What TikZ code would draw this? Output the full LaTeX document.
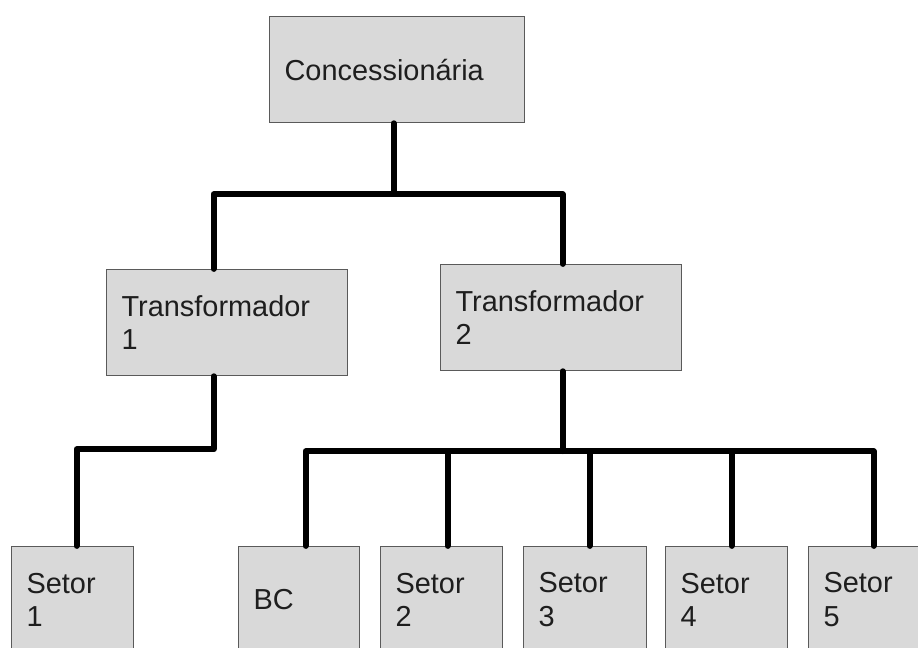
\documentclass[tikz,border=0pt]{standalone}
\usepackage{fontspec}
\setmainfont{Liberation Sans}
\usetikzlibrary{calc}
\definecolor{boxfill}{HTML}{D9D9D9}
\definecolor{boxline}{HTML}{5A5A5A}
\definecolor{ink}{HTML}{1E1E1E}
\tikzset{
  unit/.style={rectangle, draw=boxline, line width=0.6pt, fill=boxfill,
    anchor=north west, minimum height=53pt, inner xsep=7.5pt, inner ysep=0pt,
    align=left, text=ink, font=\fontsize{14.45pt}{16.6pt}\selectfont},
  wide/.style={unit, minimum width=#1, text width=#1-15pt},
  wire/.style={line width=2.9pt, line cap=round, line join=round, draw=black}
}
\begin{document}
\begin{tikzpicture}[x=0.5pt,y=-0.5pt]
  \useasboundingbox (0,0) rectangle (918,648);
  \clip (0,0) rectangle (918,648);

  % boxes
  \node[wide=127.5pt] (conc) at (269,16) {Concessionária};
  \node[wide=120.5pt] (t1) at (106,269) {Transformador\\1};
  \node[wide=120.5pt] (t2) at (440,264) {Transformador\\2};
  \node[wide=61pt] (s1) at (11,546) {Setor\\1};
  \node[wide=60.5pt] (bc) at (238,546) {BC};
  \node[wide=61pt] (s2) at (380,546) {Setor\\2};
  \node[wide=61.5pt] (s3) at (523,546) {Setor\\3};
  \node[wide=61pt] (s4) at (665,546) {Setor\\4};
  \node[wide=61pt] (s5) at (808,546) {Setor\\5};

  % upper level: utility to transformers
  \draw[wire] ($(conc.south)+(-3.5,0)$) -- ++(0,71) -| ($(t1.north)+(-13.5,0)$);
  \draw[wire] ($(conc.south)+(-3.5,71)$) -| ($(t2.north)+(1.5,0)$);

  % transformer 1 to sector 1
  \draw[wire] ($(t1.south)+(-13.5,0)$) -- ++(0,73) -| ($(s1.north)+(4,0)$);

  % transformer 2 bus
  \coordinate (tb) at ($(t2.south)+(1.5,80)$);
  \draw[wire] ($(t2.south)+(1.5,0)$) -- (tb);
  \draw[wire] (tb) -| ($(bc.north)+(6.5,0)$);
  \draw[wire] (tb) -| ($(s5.north)+(4,0)$);
  \coordinate (s2t) at ($(s2.north)+(6,0)$);
  \coordinate (s3t) at ($(s3.north)+(4.5,0)$);
  \coordinate (s4t) at ($(s4.north)+(5,0)$);
  \draw[wire] (s2t |- tb) -- (s2t);
  \draw[wire] (s3t |- tb) -- (s3t);
  \draw[wire] (s4t |- tb) -- (s4t);
\end{tikzpicture}
\end{document}
